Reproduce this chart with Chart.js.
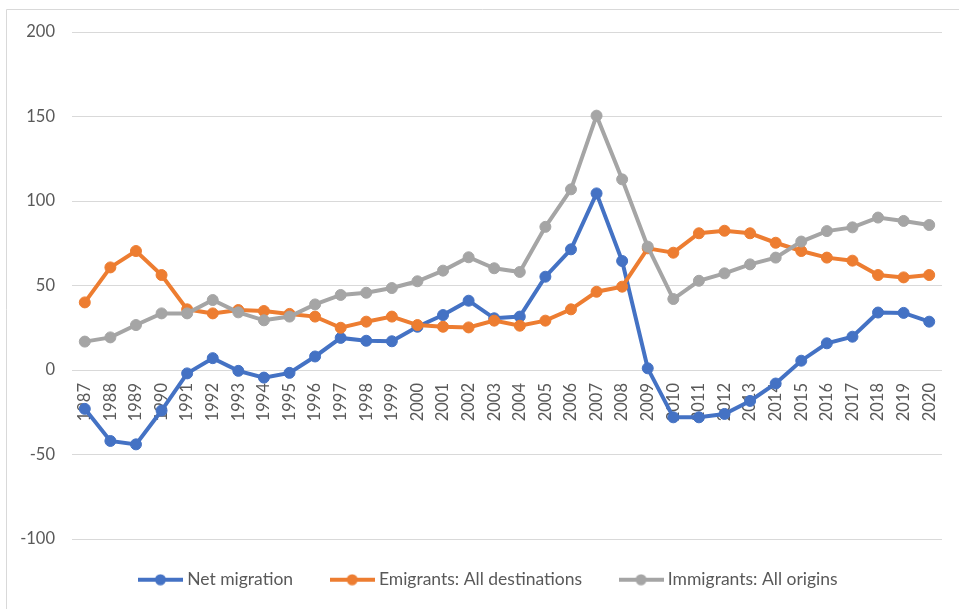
<!DOCTYPE html>
<html>
<head>
<meta charset="utf-8">
<script src="https://cdn.jsdelivr.net/npm/chart.js@4/dist/chart.umd.min.js"></script>
<style>
  html, body { margin: 0; padding: 0; background: #ffffff; }
  #wrap { width: 959px; height: 609px; position: relative; }
</style>
</head>
<body>
<div id="wrap"><canvas id="chart" width="959" height="609"></canvas></div>
<script>
// Years on the category axis
const years = [
  '1987','1988','1989','1990','1991','1992','1993','1994','1995','1996',
  '1997','1998','1999','2000','2001','2002','2003','2004','2005','2006',
  '2007','2008','2009','2010','2011','2012','2013','2014','2015','2016',
  '2017','2018','2019','2020'
];

// Thousands of people per year
const netMigration = [
  -23, -42, -44, -24, -2, 7, -0.5, -4.5, -1.7, 8,
  19, 17.3, 17, 25.6, 32.5, 41, 30.6, 31.6, 55.2, 71.4,
  104.5, 64.5, 1, -28, -28, -26, -18.3, -8, 5.5, 15.8,
  19.7, 34, 33.8, 28.6
];
const emigrants = [
  40, 60.7, 70.4, 56.2, 35.9, 33.5, 35.5, 34.9, 33.2, 31.6,
  25, 28.6, 31.6, 26.6, 25.6, 25.2, 29.2, 26.2, 29.2, 35.9,
  46.3, 49.3, 72, 69.4, 80.9, 82.4, 80.9, 75.3, 70.4, 66.5,
  64.7, 56.2, 54.8, 56.2
];
const immigrants = [
  16.8, 19.3, 26.6, 33.5, 33.5, 41.4, 34.1, 29.4, 31.6, 38.8,
  44.4, 45.7, 48.5, 52.5, 58.8, 66.7, 60.2, 58, 84.7, 106.9,
  150.5, 112.8, 73, 42, 52.8, 57.2, 62.5, 66.5, 76, 82.2,
  84.4, 90.2, 88.2, 85.8
];

const seriesNames = ['Net migration', 'Emigrants: All destinations', 'Immigrants: All origins'];
const seriesColors = ['#4472C4', '#ED7D31', '#A5A5A5'];
const yTicks = { min: -100, max: 200, step: 50 };

const FONT = 'Lato, "Liberation Sans", sans-serif';
const TEXT = '#595959';
const GRID = '#d9d9d9';

// Legend icon: short line with a dot in the middle
function legendIcon(color) {
  const c = document.createElement('canvas');
  c.width = 45; c.height = 12;
  const g = c.getContext('2d');
  g.strokeStyle = color; g.lineWidth = 4;
  g.beginPath(); g.moveTo(0, 6); g.lineTo(45, 6); g.stroke();
  g.fillStyle = color;
  g.beginPath(); g.arc(22.5, 6, 5.5, 0, Math.PI * 2); g.fill();
  return c;
}
const icons = seriesColors.map(legendIcon);

// Thin frame along the top and left edges
const framePlugin = {
  id: 'frame',
  beforeDraw(chart) {
    const ctx = chart.ctx;
    ctx.save();
    ctx.strokeStyle = GRID;
    ctx.lineWidth = 1;
    ctx.beginPath();
    ctx.moveTo(6.5, chart.height);
    ctx.lineTo(6.5, 9.5);
    ctx.lineTo(chart.width, 9.5);
    ctx.stroke();
    ctx.restore();
  }
};

// Nudge the legend box: a little higher and centred under the plot
const legendShift = {
  id: 'legendShift',
  afterLayout(chart) {
    const lg = chart.legend;
    if (!lg) return;
    lg.top -= 9; lg.bottom -= 9;
    lg.left += 19; lg.right += 19;
  }
};

function makeDataset(i, values, order) {
  return {
    label: seriesNames[i],
    data: values,
    borderColor: seriesColors[i],
    backgroundColor: seriesColors[i],
    borderWidth: 4,
    pointRadius: 5.5,
    pointBorderWidth: 1,
    pointHoverRadius: 5.5,
    tension: 0,
    order: order
  };
}

new Chart(document.getElementById('chart'), {
  type: 'line',
  data: {
    labels: years,
    datasets: [
      makeDataset(0, netMigration, 2),
      makeDataset(1, emigrants, 1),
      makeDataset(2, immigrants, 0)
    ]
  },
  options: {
    responsive: false,
    animation: false,
    layout: { padding: { left: 0, right: 17, top: 32, bottom: 1.5 } },
    plugins: {
      tooltip: { enabled: false },
      legend: {
        position: 'bottom',
        labels: {
          sort: (a, b) => a.datasetIndex - b.datasetIndex,
          usePointStyle: true,
          pointStyleWidth: 36,
          padding: 41,
          color: TEXT,
          font: { family: FONT, size: 17.5 },
          generateLabels(chart) {
            const items = Chart.defaults.plugins.legend.labels.generateLabels(chart);
            items.forEach(it => { it.pointStyle = icons[it.datasetIndex]; });
            return items;
          }
        }
      }
    },
    scales: {
      x: {
        type: 'category',
        position: { y: 0 },
        offset: true,
        grid: { display: false, drawTicks: true, tickLength: 10 },
        border: { display: false },
        ticks: {
          autoSkip: false,
          minRotation: 90,
          maxRotation: 90,
          padding: 3,
          color: TEXT,
          font: { family: FONT, size: 16.5 }
        }
      },
      y: {
        min: yTicks.min,
        max: yTicks.max,
        afterFit(scale) { scale.width = 72; },
        grid: { color: GRID, lineWidth: 1, drawTicks: false },
        border: { display: false },
        ticks: {
          stepSize: yTicks.step,
          padding: 17,
          color: TEXT,
          font: { family: FONT, size: 16.5 }
        }
      }
    }
  },
  plugins: [framePlugin, legendShift]
});
</script>
</body>
</html>
